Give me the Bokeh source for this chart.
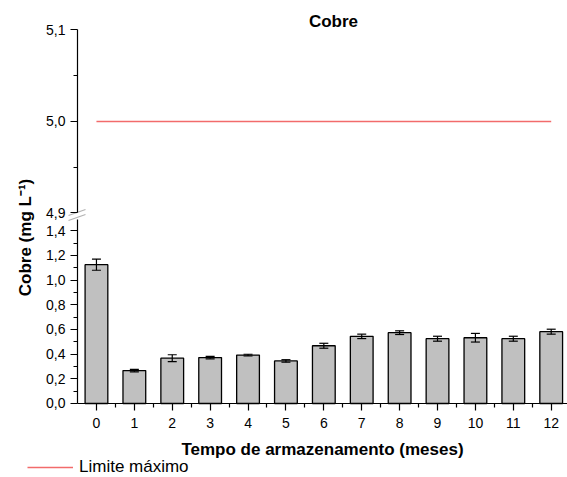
from math import pi
from bokeh.plotting import figure
from bokeh.models import (ColumnDataSource, Range1d, FixedTicker, CustomJSTickFormatter,
                          Whisker, TeeHead, Label, Legend, LegendItem, PolyAnnotation, LinearAxis)
from bokeh.embed import file_html
from bokeh.resources import INLINE

# ---------------- data ----------------
months = [0, 1, 2, 3, 4, 5, 6, 7, 8, 9, 10, 11, 12]
copper = [1.125, 0.267, 0.367, 0.372, 0.392, 0.345, 0.468, 0.544, 0.574, 0.525, 0.533, 0.525, 0.582]
copper_err = [0.045, 0.010, 0.028, 0.010, 0.007, 0.010, 0.020, 0.018, 0.015, 0.020, 0.035, 0.020, 0.020]
limit = 5.0
low_ticks = [0.0, 0.2, 0.4, 0.6, 0.8, 1.0, 1.2, 1.4]
high_ticks = [4.9, 5.0, 5.1]
title_text = "Cobre"
x_title = "Tempo de armazenamento (meses)"
y_title = "Cobre (mg L\u207b\u00b9)"
legend_text = "Limite máximo"

FONT = "Liberation Sans"
RED = "#f26b6b"
W, H = 567, 477

src = ColumnDataSource(dict(
    x=months, top=copper,
    upper=[v + e for v, e in zip(copper, copper_err)],
    lower=[v - e for v, e in zip(copper, copper_err)],
))

# scales: lower panel 0..1.4, upper (broken) panel 4.9..5.1, sharing one frame
p = figure(width=W, height=H,
           x_range=Range1d(-2.532, 12.43), y_range=Range1d(-0.5997, 3.2658),
           output_backend="svg", toolbar_location=None, min_border=0,
           outline_line_color=None)
p.extra_y_ranges = {"upper": Range1d(4.6109, 5.1322)}
p.grid.visible = False
p.background_fill_color = "white"


def style_axis(ax):
    ax.axis_line_color = "black"
    ax.axis_line_width = 1.2
    ax.major_tick_out = 7
    ax.major_tick_in = 0
    ax.minor_tick_out = 4
    ax.minor_tick_in = 0
    ax.major_tick_line_width = 1.2
    ax.minor_tick_line_width = 1.2
    ax.major_label_text_font = FONT
    ax.major_label_text_font_size = "14px"
    ax.major_label_text_color = "black"


# lower y axis
ya = p.yaxis[0]
style_axis(ya)
ya.fixed_location = -0.5
ya.bounds = (0, 1.49)
ya.formatter = CustomJSTickFormatter(code="return tick.toFixed(1).replace('.', ',');")
ya.major_label_standoff = 5
ya.ticker = FixedTicker(ticks=low_ticks,
                        minor_ticks=[(a + b) / 2 for a, b in zip(low_ticks[:-1], low_ticks[1:])])

# upper y axis
yb = LinearAxis(y_range_name="upper", fixed_location=-0.5, bounds=(4.9, 5.1))
style_axis(yb)
yb.formatter = CustomJSTickFormatter(code="return tick.toFixed(1).replace('.', ',');")
yb.major_label_standoff = 5
yb.ticker = FixedTicker(ticks=high_ticks,
                        minor_ticks=[(a + b) / 2 for a, b in zip(high_ticks[:-1], high_ticks[1:])])
p.add_layout(yb, "left")

# x axis
xa = p.xaxis[0]
style_axis(xa)
xa.fixed_location = 0
xa.bounds = (-0.5, 12.43)
xa.ticker = FixedTicker(ticks=months, minor_ticks=[m + 0.5 for m in months])
xa.major_label_standoff = 8
xa.axis_label = x_title
xa.axis_label_text_font = FONT
xa.axis_label_text_font_size = "17px"
xa.axis_label_text_font_style = "bold"
xa.axis_label_text_color = "black"
xa.axis_label_standoff = 8

# bars + error bars
p.vbar(x="x", top="top", width=0.6, source=src, fill_color="#c0c0c0",
       line_color="black", line_width=1.3)
wh = Whisker(base="x", upper="upper", lower="lower", source=src, line_color="black", line_width=1.2,
             upper_head=TeeHead(size=9, line_color="black", line_width=1.2),
             lower_head=TeeHead(size=9, line_color="black", line_width=1.2),
             level="overlay")
p.add_layout(wh)

# limit line in the upper panel
lim_r = p.line(x=[months[0], months[-1]], y=[limit, limit], y_range_name="upper",
               line_color=RED, line_width=1.6)

# axis break marks
for dy in (0, -5):
    p.add_layout(PolyAnnotation(xs=[68, 85], ys=[262 + dy, 268 + dy], xs_units="screen", ys_units="screen",
                                line_color="black", line_width=1.2, fill_alpha=0))

# title and y label
p.add_layout(Label(x=333, y=H - 21, x_units="screen", y_units="screen", text=title_text,
                   text_font=FONT, text_font_size="17px", text_font_style="bold",
                   text_align="center", text_baseline="middle", text_color="black"))
p.add_layout(Label(x=25, y=H - 237, x_units="screen", y_units="screen", text=y_title, angle=pi / 2,
                   text_font=FONT, text_font_size="17px", text_font_style="bold",
                   text_align="center", text_baseline="middle", text_color="black"))

# legend
legend = Legend(items=[LegendItem(label=legend_text, renderers=[lim_r])],
                location=(27, 0), orientation="horizontal",
                border_line_color=None, background_fill_alpha=0,
                label_text_font=FONT, label_text_font_size="17px", label_text_color="black",
                glyph_width=46, glyph_height=16, label_height=16, label_standoff=6,
                padding=0, margin=0, spacing=0)
p.add_layout(legend)

open("out.html", "w").write(file_html(p, INLINE))
